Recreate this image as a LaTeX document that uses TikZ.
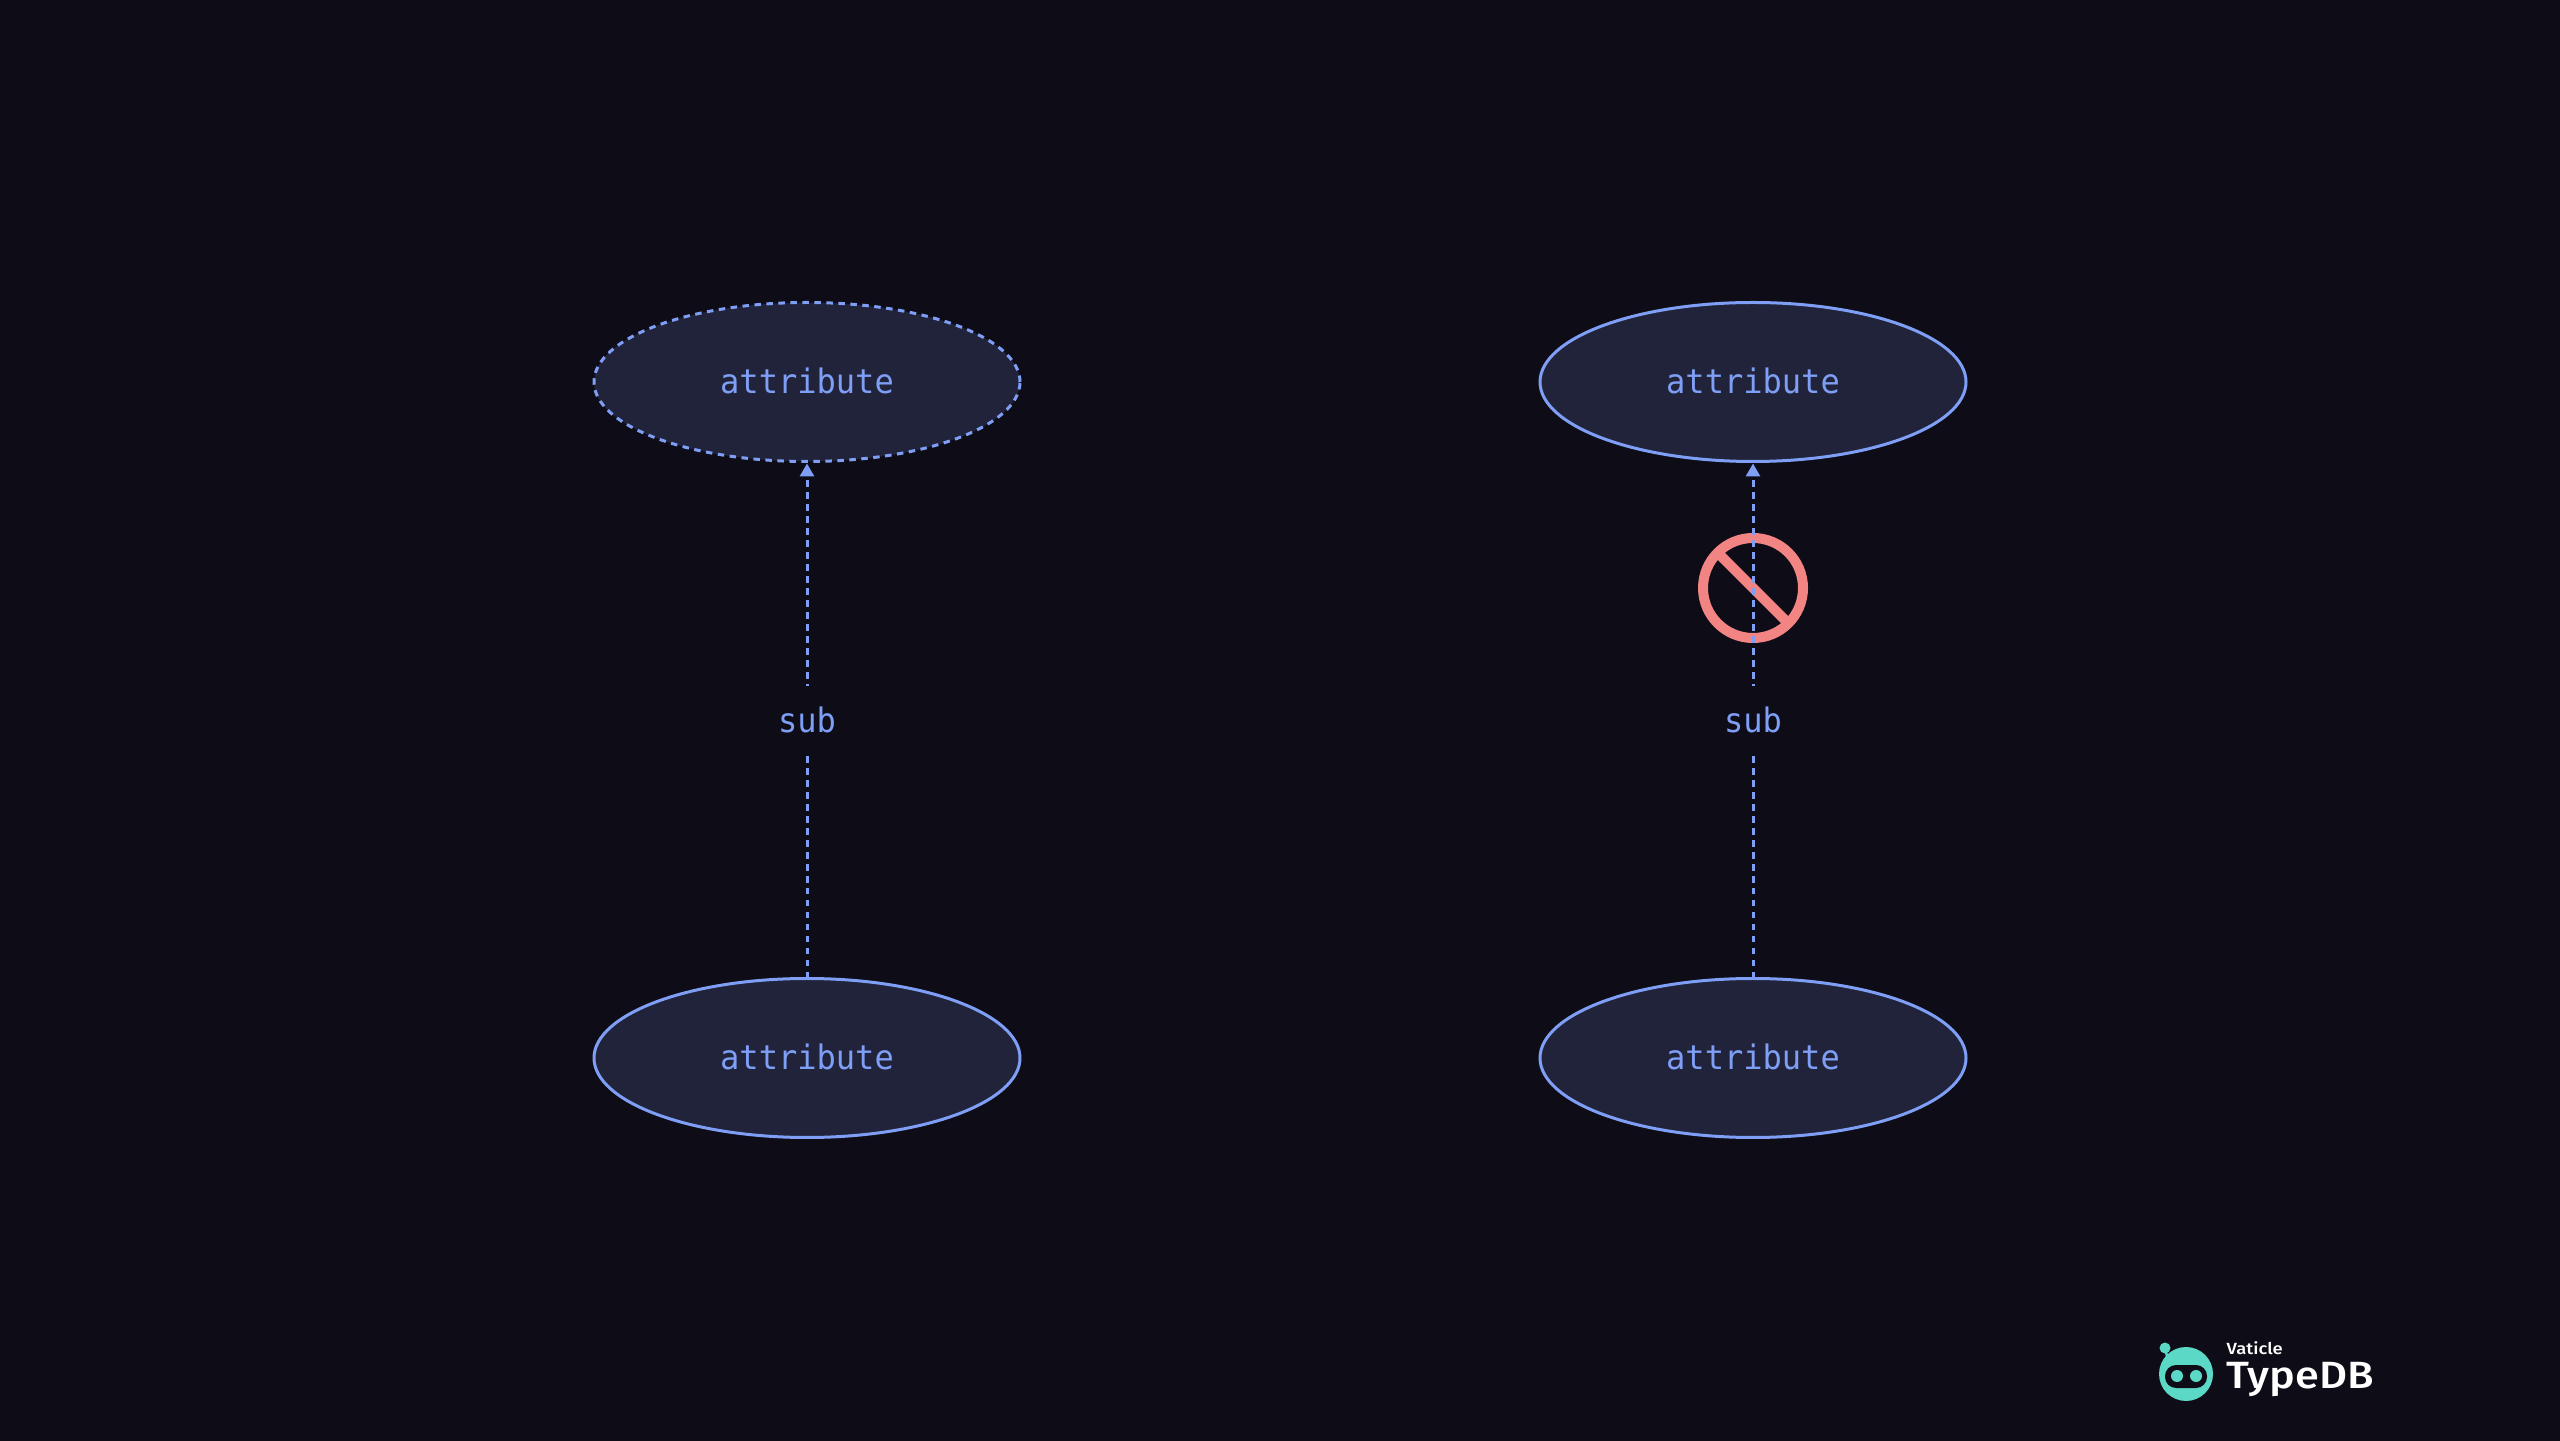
\documentclass[tikz,border=0pt]{standalone}
\usepackage{xcolor}
\usepackage{fontspec}
\usetikzlibrary{shapes.geometric,arrows.meta}
\setmainfont{DejaVu Sans Mono}
\newfontfamily\typefont[FakeStretch=0.95]{DejaVu Sans Mono}
\newfontfamily\logofont[FakeStretch=1.14]{Fira Sans Medium}
\definecolor{canvasbg}{HTML}{0E0D17}
\definecolor{typefill}{HTML}{20233A}
\definecolor{typeline}{HTML}{7F9EF5}
\definecolor{denyred}{HTML}{F28484}
\definecolor{logoteal}{HTML}{5BD8C6}
\tikzset{
  typenode/.style={ellipse, draw=typeline, fill=typefill, text=typeline, line width=0.03cm,
    minimum width=4.26cm, minimum height=1.59cm, inner sep=0pt, outer sep=0pt, text depth=0.03cm,
    font=\typefont\fontsize{9.6}{11}\selectfont},
  abstracttype/.style={typenode, dash pattern=on 0.065cm off 0.055cm},
  subedge/.style={draw=typeline, line width=0.03cm, dash pattern=on 0.065cm off 0.055cm,
    -{Triangle[length=0.13cm,width=0.14cm]}, shorten >=0.02cm},
  sublabel/.style={fill=canvasbg, text=typeline, inner sep=0pt, minimum width=0.8cm, minimum height=0.67cm,
    font=\typefont\fontsize{9.6}{11}\selectfont},
  denysign/.style={circle, draw=denyred, line width=0.1cm, minimum size=1cm, inner sep=0pt, outer sep=0pt},
}
\begin{document}
\begin{tikzpicture}
    \useasboundingbox (0,0) rectangle (25.6,14.4);
    % Fundo
    \fill[canvasbg] (-0.1,-0.1) rectangle (25.7,14.5);

    % Tipos
    \node[abstracttype] (leftsuper) at (8.07,10.58) {attribute};
    \node[typenode] (leftsub) at (8.07,3.82) {attribute};
    \node[typenode] (rightsuper) at (17.53,10.58) {attribute};
    \node[typenode] (rightsub) at (17.53,3.82) {attribute};

    % Sinal de proibido
    \node[denysign] (deny) at (17.53,8.52) {};
    \draw[denyred, line width=0.1cm] (deny.135) -- (deny.-45);

    % Arestas sub
    \draw[subedge] (leftsub) -- node[sublabel] (leftlabel) {sub} (leftsuper);
    \draw[subedge] (rightsub) -- node[sublabel] (rightlabel) {sub} (rightsuper);

    % Logo
    \fill[logoteal] (21.86,0.66) circle (0.27);
    \fill[logoteal] (21.65,0.92) circle (0.055);
    \draw[logoteal, line width=0.025cm] (21.65,0.92) -- (21.68,0.8);
    \fill[canvasbg, rounded corners=0.11cm] (21.65,0.52) rectangle (22.07,0.75);
    \fill[logoteal] (21.77,0.64) circle (0.06);
    \fill[logoteal] (21.96,0.64) circle (0.06);
    \node[anchor=base west, inner sep=0pt, text=white, font=\logofont\fontsize{4.6}{5}\selectfont] (vaticle) at (22.26,0.86) {Vaticle};
    \node[anchor=base west, inner sep=0pt, text=white, font=\logofont\fontsize{10.8}{12}\selectfont] (typedb) at (22.26,0.52) {TypeDB};
\end{tikzpicture}
\end{document}
